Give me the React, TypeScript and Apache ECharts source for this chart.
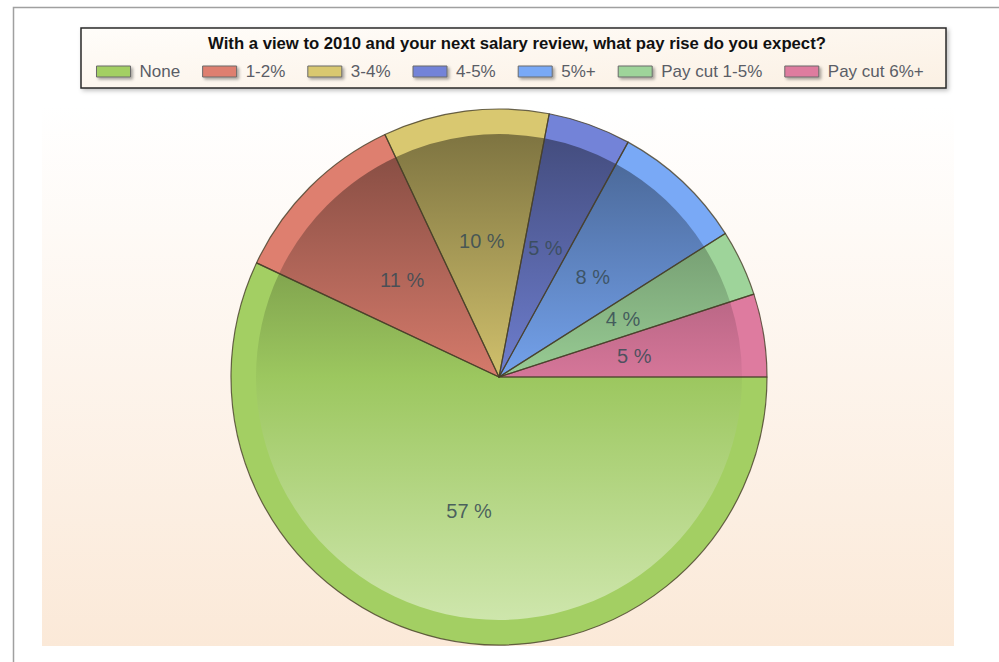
import React, { useEffect, useRef } from 'react';
import * as echarts from 'echarts';

const titleText = 'With a view to 2010 and your next salary review, what pay rise do you expect?';
const categories = ['None', '1-2%', '3-4%', '4-5%', '5%+', 'Pay cut 1-5%', 'Pay cut 6%+'];
const values = [57, 11, 10, 5, 8, 4, 5];
const baseColors = ['#a3cf63', '#de7f6f', '#d9c870', '#7383d8', '#79a9f6', '#9ed49a', '#de7b9f'];

const FONT = 'Liberation Sans, Arial, sans-serif';

function hexToRgb(h: string): number[] {
  const s = h.replace('#', '');
  return [0, 2, 4].map((i) => parseInt(s.slice(i, i + 2), 16));
}
function shade(h: string, f: number): string {
  const [r, g, b] = hexToRgb(h);
  return `rgb(${Math.round(r * f)},${Math.round(g * f)},${Math.round(b * f)})`;
}
function tint(h: string, t: number): string {
  const [r, g, b] = hexToRgb(h);
  const m = (c: number) => Math.round(c + (255 - c) * t);
  return `rgb(${m(r)},${m(g)},${m(b)})`;
}

export default function App() {
  const ref = useRef<HTMLDivElement>(null);
  useEffect(() => {
    document.body.style.margin = '0';
    if (!ref.current) return;
    const chart = echarts.init(ref.current, undefined, { renderer: 'svg' });
    const cx = 499;
    const cy = 377;
    const R = 268;
    const rim = 25;
    const rIn = R - rim;

    const outerData = categories.map((name, i) => ({
      name,
      value: values[i],
      itemStyle: { color: baseColors[i] },
    }));
    const innerData = categories.map((name, i) => ({
      name,
      value: values[i],
      itemStyle: {
        color: new echarts.graphic.LinearGradient(
          0, cy - rIn, 0, cy + rIn,
          [
            { offset: 0, color: shade(baseColors[i], 0.58) },
            { offset: 0.5, color: shade(baseColors[i], 0.96) },
            { offset: 1, color: tint(baseColors[i], 0.47) },
          ],
          true
        ),
      },
    }));
    const topData = categories.map((name, i) => ({ name, value: values[i] }));

    chart.setOption({
      animation: false,
      backgroundColor: '#ffffff',
      title: {
        text: titleText,
        left: 517,
        textAlign: 'center',
        top: 35,
        padding: 0,
        textStyle: { fontFamily: FONT, fontSize: 16.7, fontWeight: 'bold', color: '#111' },
      },
      legend: {
        data: categories,
        left: 96,
        top: 63,
        padding: 0,
        icon: 'rect',
        itemWidth: 34,
        itemHeight: 11,
        itemGap: 22,
        selectedMode: false,
        itemStyle: {
          borderColor: '#6a6a6a',
          borderWidth: 1,
          shadowBlur: 3,
          shadowOffsetX: 2,
          shadowOffsetY: 2,
          shadowColor: 'rgba(0,0,0,0.35)',
        },
        textStyle: { fontFamily: FONT, fontSize: 17, color: '#5a5d66', padding: [0, 0, 0, 4] },
      },
      graphic: [
        {
          type: 'rect',
          z: -10,
          silent: true,
          shape: { x: 13.5, y: 7.5, width: 1000, height: 700 },
          style: { fill: '#ffffff', stroke: '#a0a0a0', lineWidth: 1.5 },
        },
        {
          type: 'rect',
          z: -9,
          silent: true,
          shape: { x: 42, y: 105, width: 912, height: 541 },
          style: {
            fill: new echarts.graphic.LinearGradient(0, 0, 0, 1, [
              { offset: 0, color: '#ffffff' },
              { offset: 1, color: '#fbe9d8' },
            ]),
          },
        },
        {
          type: 'rect',
          z: -8,
          silent: true,
          shape: { x: 81, y: 28, width: 865, height: 60 },
          style: {
            fill: new echarts.graphic.LinearGradient(0, 0, 1, 1, [
              { offset: 0, color: '#fffdfa' },
              { offset: 1, color: '#fbf0e3' },
            ]),
            stroke: '#2a2a2a',
            lineWidth: 1.5,
            shadowBlur: 4,
            shadowOffsetX: 2,
            shadowOffsetY: 2,
            shadowColor: 'rgba(0,0,0,0.25)',
          },
        },
      ],
      series: [
        {
          type: 'pie',
          name: 'rim',
          center: [cx, cy],
          radius: [0, R],
          startAngle: 0,
          clockwise: true,
          silent: true,
          z: 2,
          label: { show: false },
          labelLine: { show: false },
          itemStyle: { borderWidth: 0 },
          data: outerData,
        },
        {
          type: 'pie',
          name: 'inner',
          center: [cx, cy],
          radius: [0, rIn],
          startAngle: 0,
          clockwise: true,
          silent: true,
          z: 3,
          label: { show: false },
          labelLine: { show: false },
          itemStyle: { borderWidth: 0 },
          data: innerData,
        },
        {
          type: 'pie',
          name: 'edges',
          center: [cx, cy],
          radius: [0, R],
          startAngle: 0,
          clockwise: true,
          silent: true,
          z: 4,
          itemStyle: {
            color: 'rgba(0,0,0,0)',
            borderColor: 'rgba(70,62,40,0.8)',
            borderWidth: 1.2,
          },
          label: {
            show: true,
            position: 'inside',
            formatter: '{c} %',
            fontFamily: FONT,
            fontSize: 20,
            color: 'rgba(55,75,85,0.85)',
          },
          labelLine: { show: false },
          data: topData,
        },
      ],
    });
    return () => chart.dispose();
  }, []);
  return <div ref={ref} style={{ width: 999, height: 662, position: 'fixed', left: 0, top: 0 }} />;
}
